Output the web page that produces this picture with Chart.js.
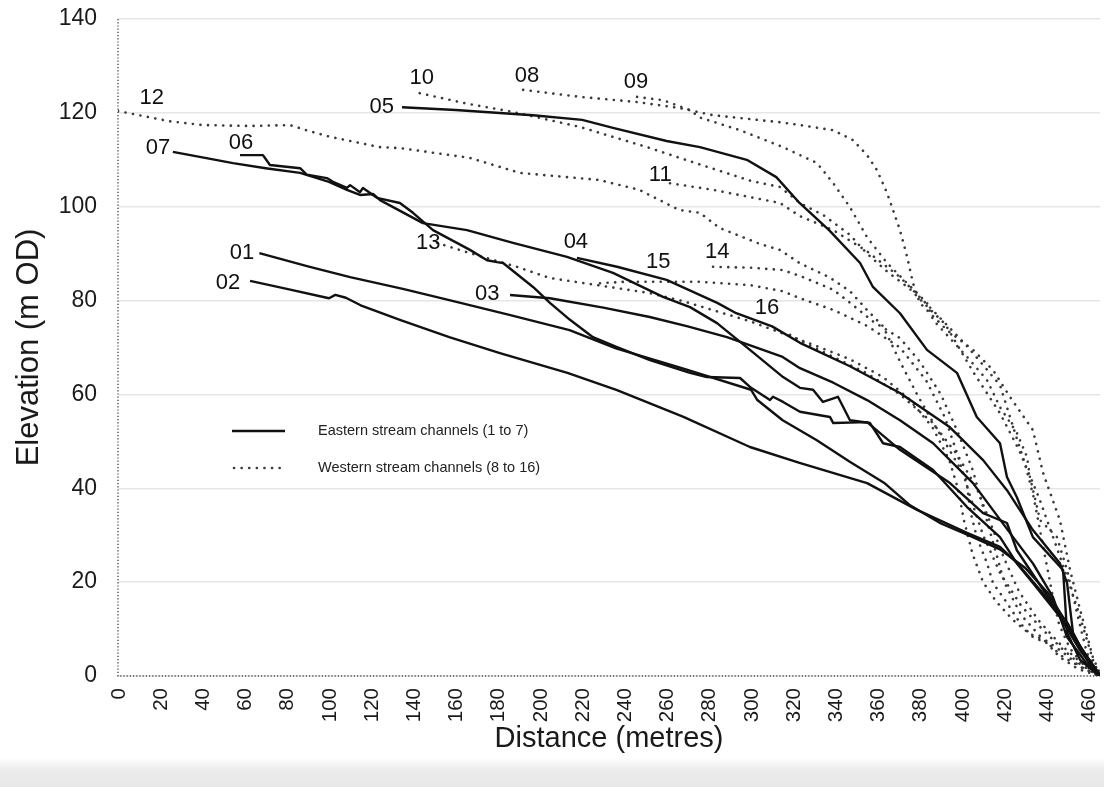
<!DOCTYPE html>
<html>
<head>
<meta charset="utf-8">
<script src="https://cdn.jsdelivr.net/npm/chart.js@4.4.1/dist/chart.umd.min.js"></script>
<style>
  html, body { margin: 0; padding: 0; background: #ffffff; }
  #wrap { width: 1104px; height: 787px; position: relative; }
</style>
</head>
<body>
<div id="wrap"><canvas id="c" width="1104" height="787"></canvas></div>
<script>
// ---- Data (distance in metres, elevation in m OD) ----
const xTicks = [0,20,40,60,80,100,120,140,160,180,200,220,240,260,280,300,320,340,360,380,400,420,440,460];
const yTicks = [0,20,40,60,80,100,120,140];

// Eastern stream channels (solid)
const s01 = [[67,90.1],[90,87.3],[110,85],[135,82.5],[157,80.1],[185,77],[214,73.7],[236,69.8],[268,65.5],[300,61],[303,58.8],[315,54.5],[331,50.3],[347,45.6],[363,41.2],[375,36.5],[390,32.5],[403,30],[418,27],[430,23],[441,17.5],[450,11],[458,4.5],[465,0.5]];
const s02 = [[62.6,84.2],[80,82.5],[100,80.5],[103,81.2],[108,80.6],[115,79],[133.6,75.9],[157,72.2],[181,68.8],[213,64.6],[236.5,60.9],[268,55.2],[299.5,48.8],[323,45.4],[355,41.1],[378.7,35.4],[402.4,30.5],[418,27.5],[426,24.1],[437,18.3],[450,11.3],[457,5.5],[465,0.5]];
const s03 = [[185.8,81.2],[204.7,80.5],[230,78.5],[252,76.5],[270,74.5],[288.6,72.2],[315,68],[323.2,65.6],[339,62.5],[355,58.8],[370.6,54.5],[386.3,49.6],[405.2,41.1],[424.2,29.6],[433.6,24],[443.1,16.8],[449.8,8.3],[460.6,1.7],[465.4,0]];
const s04 = [[217.5,89.1],[236.5,87.2],[260,84.4],[284,79.5],[293,77.3],[310,74.5],[323.2,71],[346.9,66],[370.6,60.3],[394.3,53],[410,46],[421.3,39.6],[433.6,31.1],[446.4,24],[449.8,19.8],[452.6,9.2],[460.6,2.3],[465.4,0]];
const s05 = [[134.6,121.2],[160,120.6],[196.7,119.5],[220,118.5],[234.6,116.8],[260,114],[275.8,112.7],[298,110],[312,106.3],[323,100.8],[337,95],[351.7,88],[357.8,82.9],[370.6,77.3],[383.4,69.5],[397.6,64.6],[407,55.2],[418,49.6],[421.3,42.4],[426,38.1],[433.6,29.6],[447.9,22.6],[449.8,9.2],[456,3.4],[465.4,0]];
const s06 = [[57.8,111],[68.7,111],[72,108.9],[86.3,108.2],[89.6,106.8],[99,106.1],[101.9,105.3],[108.5,104],[110,104.6],[114.7,103.1],[116.1,104],[122.7,101.9],[133.6,100.8],[139.8,98.7],[149.3,95],[166.8,90.8],[174.9,88.6],[179.6,88.2],[182.5,88],[196.7,82.9],[204.7,79.5],[214.2,75.9],[225.1,72.2],[236.5,70.1],[252.1,67.3],[271.1,64.6],[279.1,63.7],[294.8,63.5],[299.5,61.6],[309,58.8],[310.4,59.5],[315.2,58.4],[323.2,56.3],[337.4,55.2],[339,53.9],[355,54.1],[370.6,48.2],[394.3,41.1],[410,34.7],[421.3,32.6],[426,26.8],[441.7,16.2],[455.9,5.5],[465.4,0]];
const s07 = [[26,111.7],[40,110.5],[54.5,109.3],[70,108.2],[86.3,107.2],[100,105.3],[108.5,103.6],[114.7,102.5],[121,102.7],[124.2,101.4],[144.5,96.5],[165.4,95],[187.2,92.3],[212.8,89.3],[234.6,85.9],[258.3,80.8],[271.1,78.6],[283.9,75.2],[299.5,69.5],[315.2,63.7],[323.2,61.4],[329.4,61],[334.1,58.4],[341.2,59.5],[346.9,54.5],[356.4,53.9],[362.6,49.6],[370.6,48.8],[386.3,43.9],[402.4,36],[418,29.6],[426,24],[433.6,19.8],[446.4,12.6],[457.3,5.5],[465.4,0]];

// Western stream channels (dotted)
const s08 = [[192,124.9],[219,123.4],[246,122.3],[266.4,121],[282,119.5],[313.7,118],[323.2,117.4],[339,116.3],[348.3,114.2],[355,111],[359.7,107.8],[364.5,102.9],[367.3,99.3],[370.6,95],[374,89.3],[376.8,83.7],[380,79.5],[392.9,73.7],[405.2,69.5],[414.7,65.2],[422.7,59.5],[433.6,52.4],[438.4,43.3],[446.4,33.2],[451.2,22.6],[456,14.1],[462,4],[465.4,0.5]];
const s09 = [[246,123.4],[258.3,122.7],[271.1,120.6],[275.8,119],[294.8,116.3],[315.2,112.7],[331.3,109.3],[339,105],[346.9,99.9],[355,93.5],[364.5,88],[374,83.7],[383.4,79.5],[386.3,75.9],[402.4,68],[411.8,63.1],[418,57.3],[426,51.8],[430.8,46.7],[432.2,42.4],[437,33.2],[445,29.6],[449.8,22.6],[454.5,13.4],[459.2,4.9],[465,0.5]];
const s10 = [[143,124.2],[165,122],[187.2,120.2],[219,117],[250.7,112.7],[275.8,109],[300,105.5],[313.7,104.2],[323.2,100.8],[335,98],[346.9,94],[355,90],[365,86],[375,82.6],[384,78.5],[392,75],[405,65],[418,56],[427,48.2],[436.5,38],[446,26],[455,14],[462,3.5],[465.4,0]];
const s11 = [[261.6,105],[282,103.6],[313.7,100.8],[323.2,98],[339,95],[355,90.5],[370.6,85],[386,78],[402,70.5],[418,62],[425,52],[430,45],[434,38],[437,31],[440,24],[443,17],[446,11],[451,6],[458,2],[465,0]];
const s12 = [[0,120.4],[10,119.5],[24.6,118.2],[40,117.4],[62.6,117.2],[81.5,117.4],[90,116.2],[100.5,114.9],[124,112.7],[133.6,112.5],[166.8,110.4],[190.5,107.2],[228,105.7],[247,103.6],[266,99.3],[275.8,98.7],[285,95.5],[304,92.1],[313.7,90.8],[323,88],[337,85],[346.9,82],[355,78],[362.6,74.5],[370.6,67],[378.7,60],[386.3,54],[394.3,48],[402,42],[404,35],[407,29.6],[411.8,24.1],[414.7,19.8],[421.3,15.6],[427.5,11.3],[433.6,8.3],[440.3,7],[446.4,4],[455,1.5],[465,0]];
const s13 = [[151.2,92.3],[165.4,90.3],[189,87.2],[204.7,84.8],[228.4,83.2],[252,81.6],[267.7,79.9],[283.9,77.7],[299.5,75.6],[315,73],[330,70.5],[346.9,67.5],[362.6,63.7],[375,59],[386,53],[394,46],[398,40],[401,33],[405,26],[410,20],[416,16],[424,12],[432,9],[440,7.5],[448,5],[456,2],[465,0]];
const s14 = [[282,87.2],[300,87],[315.2,86.5],[324.6,85],[339,82.3],[347,79.5],[358,75.5],[370.6,72],[380,67],[390,60],[398,52],[405,44],[410,36],[415,28],[420,20],[428,13],[438,8],[448,4],[458,1.5],[465,0]];
const s15 = [[228.4,83.7],[240,84],[252,84],[275.8,84],[299.5,83.3],[315,82],[323.2,80.5],[339,78],[355,74.6],[370.6,70],[383,63],[392,55],[398,47],[404,38],[410,30],[418,22],[428,15],[438,10],[447,6],[456,2.5],[465,0]];
const s16 = [[318.5,72.7],[323.2,71.5],[339,68],[355,64.5],[370.6,60],[386,54],[398,47],[407,40],[414,32],[420,25],[427,18],[436,12],[446,7],[456,3],[465,0]];

// Channel labels (text, distance, elevation)
const labelNames = ['12','07','06','05','10','08','09','11','01','02','13','04','15','14','03','16'];
const labelX =     [16,  19,  58.3,125, 144, 193.8,245.5,257, 58.8,52.1,147, 217, 256, 284, 175, 307.6];
const labelY =     [123.2,112.5,113.6,121.2,127.4,127.8,126.6,106.8,90.1,83.7,92.3,92.5,88.2,90.3,81.4,78.4];

const eastern = [s01,s02,s03,s04,s05,s06,s07];
const western = [s08,s09,s10,s11,s12,s13,s14,s15,s16];
const legendTexts = ['Eastern stream channels (1 to 7)','Western stream channels (8 to 16)'];

const FONT = '"Liberation Sans", Arial, Helvetica, sans-serif';

const datasets = [];
eastern.forEach((d, i) => datasets.push({
  label: 'E' + (i + 1), data: d, borderColor: '#111111', borderWidth: 2.4,
  pointRadius: 0, tension: 0, fill: false, borderJoinStyle: 'round'
}));
western.forEach((d, i) => datasets.push({
  label: 'W' + (i + 8), data: d, borderColor: '#3a3a3a', borderWidth: 2.6,
  borderDash: [0.1, 7.5], borderCapStyle: 'round',
  pointRadius: 0, tension: 0, fill: false
}));

const bgPlugin = {
  id: 'bg',
  beforeDraw(chart) {
    const ctx = chart.ctx;
    ctx.save();
    ctx.fillStyle = '#ffffff';
    ctx.fillRect(0, 0, chart.width, chart.height);
    const g = ctx.createLinearGradient(0, 758, 0, 787);
    g.addColorStop(0, 'rgba(236,236,236,0)');
    g.addColorStop(0.4, 'rgba(236,236,236,1)');
    g.addColorStop(1, 'rgba(232,232,232,1)');
    ctx.fillStyle = g;
    ctx.fillRect(0, 758, chart.width, 29);
    ctx.restore();
  },
  beforeDatasetsDraw(chart) {
    // dotted axis lines
    const {ctx, chartArea: a} = chart;
    ctx.save();
    ctx.strokeStyle = '#4a4a4a';
    ctx.lineWidth = 1.4;
    ctx.setLineDash([1.2, 2.0]);
    ctx.beginPath();
    ctx.moveTo(a.left, a.top); ctx.lineTo(a.left, a.bottom);
    ctx.lineTo(a.right, a.bottom);
    ctx.stroke();
    ctx.restore();
  }
};

const labelPlugin = {
  id: 'chanLabels',
  afterDatasetsDraw(chart) {
    const {ctx, scales: {x, y}, chartArea} = chart;
    ctx.save();
    ctx.font = '22px ' + FONT;
    ctx.fillStyle = '#111111';
    ctx.textAlign = 'center';
    ctx.textBaseline = 'middle';
    labelNames.forEach((t, i) => {
      ctx.fillText(t, x.getPixelForValue(labelX[i]), y.getPixelForValue(labelY[i]));
    });
    // x tick labels (rotated)
    ctx.font = '20.5px ' + FONT;
    ctx.fillStyle = '#1a1a1a';
    ctx.textAlign = 'right';
    ctx.textBaseline = 'middle';
    xTicks.forEach(v => {
      ctx.save();
      ctx.translate(x.getPixelForValue(v) + 1, chartArea.bottom + 12);
      ctx.rotate(-Math.PI / 2);
      ctx.fillText(String(v), 0, 0);
      ctx.restore();
    });
    // legend
    const lx = chartArea.left + 114, lx2 = chartArea.left + 167, tx = chartArea.left + 200;
    const ly1 = chartArea.top + 412, ly2 = chartArea.top + 449;
    ctx.strokeStyle = '#111111';
    ctx.lineWidth = 2.6;
    ctx.beginPath(); ctx.moveTo(lx, ly1); ctx.lineTo(lx2, ly1); ctx.stroke();
    ctx.setLineDash([0.1, 7.5]);
    ctx.lineCap = 'round';
    ctx.strokeStyle = '#3a3a3a';
    ctx.beginPath(); ctx.moveTo(lx + 2, ly2); ctx.lineTo(lx2, ly2); ctx.stroke();
    ctx.setLineDash([]);
    ctx.font = '14.5px ' + FONT;
    ctx.textAlign = 'left';
    ctx.fillStyle = '#222222';
    ctx.fillText(legendTexts[0], tx, ly1);
    ctx.fillText(legendTexts[1], tx, ly2);
    ctx.restore();
  }
};

new Chart(document.getElementById('c'), {
  type: 'line',
  data: { datasets },
  options: {
    responsive: false,
    animation: false,
    layout: { padding: { top: 19, right: 4, bottom: 0, left: 0 } },
    plugins: { legend: { display: false }, tooltip: { enabled: false } },
    scales: {
      x: {
        type: 'linear', min: 0, max: 465.4,
        afterBuildTicks(scale) { scale.ticks = xTicks.map(v => ({ value: v })); },
        afterFit(scale) { scale.height = 111; scale.paddingLeft = 0; scale.paddingRight = 0; },
        ticks: { display: false },
        grid: { display: false, drawTicks: false },
        border: { display: false },
        title: {
          display: true, text: 'Distance (metres)', color: '#1a1a1a',
          font: { family: FONT, size: 29 }, padding: { top: 0, bottom: 31 }
        }
      },
      y: {
        type: 'linear', min: 0, max: 140,
        afterBuildTicks(scale) { scale.ticks = yTicks.map(v => ({ value: v })); },
        afterFit(scale) { scale.width = 118; scale.paddingTop = 0; scale.paddingBottom = 0; },
        ticks: { padding: 21, color: '#1a1a1a', font: { family: FONT, size: 23 } },
        grid: { color: '#e6e6e6', lineWidth: 1.5, drawTicks: false },
        border: { display: false },
        title: {
          display: true, text: 'Elevation (m OD)', color: '#1a1a1a',
          font: { family: FONT, size: 31 }, padding: { top: 11, bottom: 0 }
        }
      }
    }
  },
  plugins: [bgPlugin, labelPlugin]
});
</script>
</body>
</html>
